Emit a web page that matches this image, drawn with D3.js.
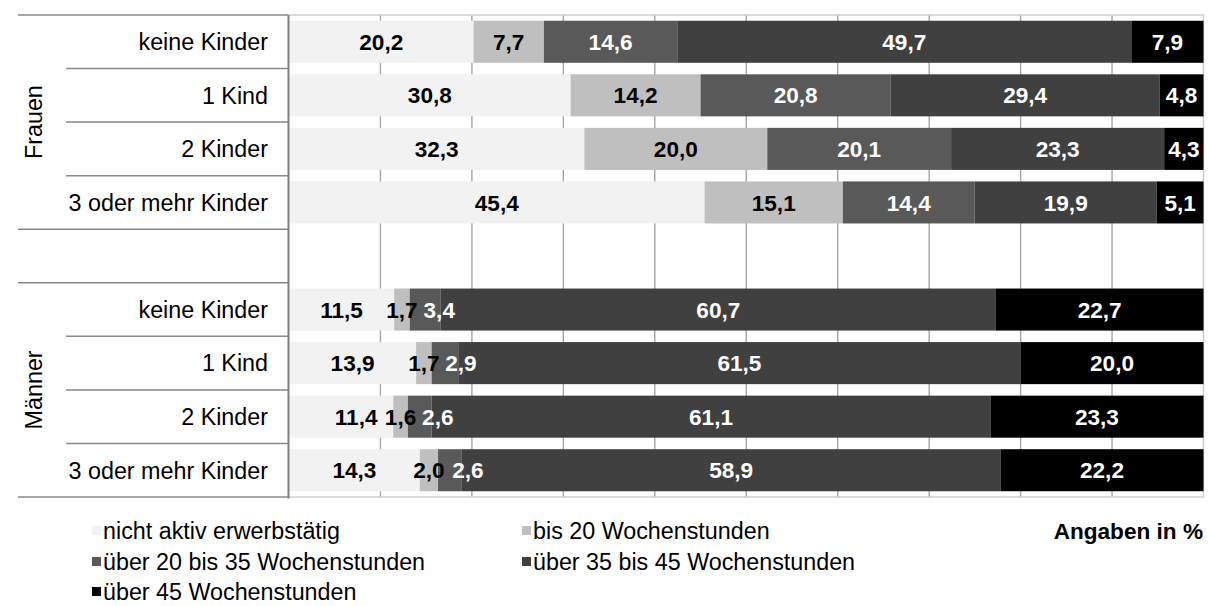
<!DOCTYPE html>
<html>
<head>
<meta charset="utf-8">
<script src="https://cdn.jsdelivr.net/npm/d3@7"></script>
<style>
  body { margin: 0; background: #fff; }
  svg text { font-family: "Liberation Sans", Arial, sans-serif; }
</style>
</head>
<body>
<div id="chart"></div>
<script>
// categories and series
var series = ["nicht aktiv erwerbstätig", "bis 20 Wochenstunden", "über 20 bis 35 Wochenstunden",
              "über 35 bis 45 Wochenstunden", "über 45 Wochenstunden"];
var groups = ["Frauen", "Männer"];
var kinder = ["keine Kinder", "1 Kind", "2 Kinder", "3 oder mehr Kinder"];

// values in % (rows = kinder, columns = series)
var frauen = [
  [20.2, 7.7, 14.6, 49.7, 7.9],
  [30.8, 14.2, 20.8, 29.4, 4.8],
  [32.3, 20.0, 20.1, 23.3, 4.3],
  [45.4, 15.1, 14.4, 19.9, 5.1]
];
var maenner = [
  [11.5, 1.7, 3.4, 60.7, 22.7],
  [13.9, 1.7, 2.9, 61.5, 20.0],
  [11.4, 1.6, 2.6, 61.1, 23.3],
  [14.3, 2.0, 2.6, 58.9, 22.2]
];
var xTicks = [0, 0.1, 0.2, 0.3, 0.4, 0.5, 0.6, 0.7, 0.8, 0.9, 1];

var colors = ["#f2f2f2", "#bfbfbf", "#595959", "#404040", "#000000"];
var labelColors = ["#000", "#000", "#fff", "#fff", "#fff"];
// small label shifts (px) where labels were moved apart in the original
var labelNudge = { "M0-2": 14, "M1-2": 16, "M2-0": 15, "M2-2": 18, "M3-2": 18 };

var width = 1209, height = 606;
var margin = { left: 289, right: 5.5, top: 15, bottom: 109 };
var fontSize = "23.3px";

// build rows: 4 Frauen, spacer, 4 Männer
var rows = [];
frauen.forEach(function(v, i) { rows.push({ key: "F" + i, label: kinder[i], values: v }); });
var keys = rows.map(function(r) { return r.key; }).concat(["gap"]);
maenner.forEach(function(v, i) { rows.push({ key: "M" + i, label: kinder[i], values: v }); });
keys = keys.concat(rows.slice(4).map(function(r) { return r.key; }));

var svg = d3.select("#chart").append("svg")
  .attr("width", width)
  .attr("height", height);

var x = d3.scaleLinear().domain([0, 1]).range([margin.left, width - margin.right]);
var y = d3.scaleBand().domain(keys)
  .range([margin.top, height - margin.bottom])
  .paddingInner(0.215).paddingOuter(0.1075);

var stack = d3.stack()
  .keys(d3.range(series.length))
  .value(function(d, k) { return d.values[k]; })
  .offset(d3.stackOffsetExpand);
var stacked = stack(rows);

var yTop = margin.top, yBottom = height - margin.bottom;

// gridlines
svg.append("g")
  .selectAll("line")
  .data(xTicks.slice(1, -1))
  .enter().append("line")
    .attr("x1", function(d) { return x(d); })
    .attr("x2", function(d) { return x(d); })
    .attr("y1", yTop).attr("y2", yBottom)
    .attr("stroke", "#a6a6a6")
    .attr("stroke-width", 1.4);

// light plot border
svg.append("path")
  .attr("d", "M" + x(0) + "," + yTop + "H" + x(1) + "V" + yBottom + "H" + x(0))
  .attr("fill", "none")
  .attr("stroke", "#cfcfcf")
  .attr("stroke-width", 1.5);

// bars
var layer = svg.append("g").selectAll("g")
  .data(stacked)
  .enter().append("g")
    .attr("fill", function(d) { return colors[d.key]; });

layer.selectAll("rect")
  .data(function(d) { return d; })
  .enter().append("rect")
    .attr("x", function(d) { return x(d[0]); })
    .attr("width", function(d) { return x(d[1]) - x(d[0]); })
    .attr("y", function(d) { return y(d.data.key); })
    .attr("height", y.bandwidth());

// value labels
stacked.forEach(function(s) {
  svg.append("g").selectAll("text")
    .data(s)
    .enter().append("text")
      .attr("x", function(d) {
        var n = labelNudge[d.data.key + "-" + s.key] || 0;
        return (x(d[0]) + x(d[1])) / 2 + n;
      })
      .attr("y", function(d) { return y(d.data.key) + y.bandwidth() / 2; })
      .attr("dy", "0.36em")
      .attr("text-anchor", "middle")
      .attr("font-size", "22.6px")
      .attr("font-weight", "bold")
      .attr("fill", labelColors[s.key])
      .text(function(d) { return d3.format(".1f")(d.data.values[s.key]).replace(".", ","); });
});

// left axis line and category grid
var axisX = x(0) - 0.5;
var step = y.step();
var sep = svg.append("g").attr("stroke", "#8a8a8a").attr("stroke-width", 1.5);
keys.forEach(function(k, i) {
  var yy = yTop + i * step;
  var outer = (i === 0 || i === 4 || i === 5);
  sep.append("line")
    .attr("x1", outer ? 18 : 66).attr("x2", axisX)
    .attr("y1", yy).attr("y2", yy);
});
sep.append("line").attr("x1", 18).attr("x2", axisX).attr("y1", yBottom).attr("y2", yBottom);
svg.append("line")
  .attr("x1", axisX).attr("x2", axisX)
  .attr("y1", yTop).attr("y2", yBottom + 1.5)
  .attr("stroke", "#808080")
  .attr("stroke-width", 2);

// category labels
svg.append("g").selectAll("text")
  .data(rows)
  .enter().append("text")
    .attr("x", 268)
    .attr("y", function(d) { return y(d.key) + y.bandwidth() / 2; })
    .attr("dy", "0.36em")
    .attr("text-anchor", "end")
    .attr("font-size", fontSize)
    .attr("fill", "#000")
    .text(function(d) { return d.label; });

// group labels (rotated)
groups.forEach(function(g, i) {
  var y0 = i === 0 ? yTop : yTop + 5 * step;
  var cy = y0 + 2 * step;
  svg.append("text")
    .attr("transform", "translate(34," + cy + ") rotate(-90)")
    .attr("dy", "0.36em")
    .attr("text-anchor", "middle")
    .attr("font-size", fontSize)
    .attr("fill", "#000")
    .text(g);
});

// legend
var legendCols = [92, 522], legendRows = [531, 562, 592];
var legend = svg.append("g").selectAll("g")
  .data(series)
  .enter().append("g")
    .attr("transform", function(d, i) {
      return "translate(" + legendCols[i % 2] + "," + legendRows[Math.floor(i / 2)] + ")";
    });
legend.append("rect")
  .attr("x", 0).attr("y", -5)
  .attr("width", 9).attr("height", 9)
  .attr("fill", function(d, i) { return colors[i]; });
legend.append("text")
  .attr("x", 11)
  .attr("dy", "0.36em")
  .attr("font-size", fontSize)
  .attr("fill", "#000")
  .text(function(d) { return d; });

svg.append("text")
  .attr("x", 1203)
  .attr("y", legendRows[0])
  .attr("dy", "0.36em")
  .attr("text-anchor", "end")
  .attr("font-size", "22.6px")
  .attr("font-weight", "bold")
  .text("Angaben in %");
</script>
</body>
</html>
